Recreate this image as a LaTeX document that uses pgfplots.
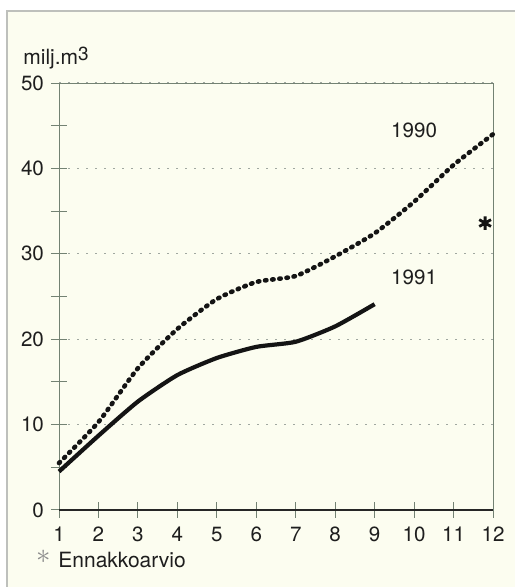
\documentclass[border=0pt]{standalone}
\usepackage{pgfplots}
\pgfplotsset{compat=1.18}
\usetikzlibrary{backgrounds}
\usepackage{fontspec}
\setmainfont{TeX Gyre Heros}
\definecolor{bg}{RGB}{252,253,240}
\definecolor{frame}{RGB}{190,192,188}
\definecolor{axgray}{RGB}{115,130,115}
\definecolor{gridgray}{RGB}{160,167,160}
\definecolor{txt}{RGB}{30,30,30}
\begin{document}
\begin{tikzpicture}
\begin{axis}[
name=ax,
width=217pt, height=213.5pt,
scale only axis,
xmin=1, xmax=12, ymin=0, ymax=50,
xtick={1,...,12},
ytick={0,10,...,50},
minor ytick={5,15,...,45},
xtick pos=bottom, ytick pos=left,
tick align=center,
major tick length=8pt, minor tick length=8pt,
every tick/.style={axgray, line width=0.5pt},
axis line style={axgray, line width=0.5pt},
ymajorgrids,
major grid style={gridgray, line width=0.6pt, dash pattern=on 1pt off 3.5pt},
tick label style={font=\fontsize{10.3}{12}\selectfont, text=txt},
/pgf/number format/assume math mode=true,
xticklabel style={yshift=-1pt},
clip=false,
]
\addplot[black!92, line width=2.3pt, line cap=round, dash pattern=on 0.7pt off 2.9pt, smooth, tension=0.35]
coordinates {(1,5.5) (2,10.3) (3,16.6) (4,21.2) (5,24.7) (6,26.7) (7,27.4) (8,29.7) (9,32.4) (10,36.1) (11,40.4) (12,44.0)};
\addplot[black!92, line width=2.1pt, smooth, tension=0.35]
coordinates {(1,4.5) (2,8.7) (3,12.7) (4,15.8) (5,17.8) (6,19.1) (7,19.7) (8,21.5) (9,24.1)};
\addplot[only marks, mark=asterisk, mark size=3.4pt, line width=1.4pt, black!92]
coordinates {(11.8,33.6)};
\draw[black!85, line width=1pt] (rel axis cs:0,0) -- (rel axis cs:1,0);
\node[txt, font=\fontsize{10.3}{12}\selectfont] at (axis cs:10,44.5) {1990};
\node[txt, font=\fontsize{10.3}{12}\selectfont] at (axis cs:10,27.2) {1991};
\end{axis}
\begin{scope}[on background layer]
\fill[white] ([shift={(-29.5pt,-38.5pt)}]ax.south west) rectangle ([shift={(227.5pt,255pt)}]ax.south west);
\filldraw[fill=bg, draw=frame, line width=0.7pt] ([shift={(-26pt,-60pt)}]ax.south west) rectangle ([shift={(240pt,249.5pt)}]ax.south west);
\end{scope}
\node[anchor=base west, txt, font=\fontsize{10.5}{12}\selectfont, inner sep=0pt] at ([shift={(-18pt,222.5pt)}]ax.south west) {milj.m\raisebox{2pt}{\fontsize{9.5}{10}\selectfont 3}};
\node[black!45, font=\fontsize{14}{14}\selectfont, inner sep=0pt] at ([shift={(-7.5pt,-23.5pt)}]ax.south west) {$\ast$};
\node[anchor=base west, txt, font=\fontsize{10.5}{12}\selectfont, inner sep=0pt] at ([shift={(-0.5pt,-28.5pt)}]ax.south west) {Ennakkoarvio};
\pgfresetboundingbox
\path[use as bounding box] ([shift={(-29.5pt,-38.5pt)}]ax.south west) rectangle ([shift={(227.5pt,255pt)}]ax.south west);
\end{tikzpicture}
\end{document}
